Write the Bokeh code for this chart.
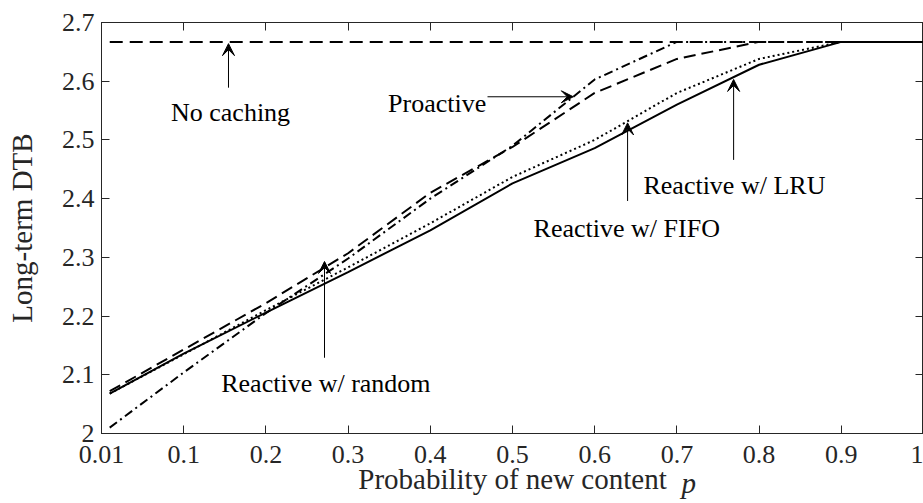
from bokeh.plotting import figure
from bokeh.models import (Range1d, LinearAxis, FixedTicker, Label, Arrow, VeeHead, Title)
from bokeh.embed import file_html
from bokeh.resources import INLINE

# ---- data ----
p_vals = [0.01, 0.1, 0.2, 0.3, 0.4, 0.5, 0.6, 0.7, 0.8, 0.9, 1.0]
no_caching = [2.667, 2.667, 2.667, 2.667, 2.667, 2.667, 2.667, 2.667, 2.667, 2.667, 2.667]
proactive = [2.010, 2.104, 2.205, 2.298, 2.400, 2.490, 2.603, 2.667, 2.667, 2.667, 2.667]
reactive_random = [2.072, 2.143, 2.222, 2.307, 2.410, 2.488, 2.580, 2.638, 2.667, 2.667, 2.667]
reactive_fifo = [2.068, 2.135, 2.210, 2.283, 2.358, 2.437, 2.500, 2.580, 2.638, 2.667, 2.667]
reactive_lru = [2.068, 2.136, 2.206, 2.275, 2.346, 2.426, 2.486, 2.560, 2.628, 2.667, 2.667]

x_ticks = [0, 0.1, 0.2, 0.3, 0.4, 0.5, 0.6, 0.7, 0.8, 0.9, 1]
x_tick_labels = ["0.01", "0.1", "0.2", "0.3", "0.4", "0.5", "0.6", "0.7", "0.8", "0.9", "1"]
y_ticks = [2, 2.1, 2.2, 2.3, 2.4, 2.5, 2.6, 2.7]
y_tick_labels = ["2", "2.1", "2.2", "2.3", "2.4", "2.5", "2.6", "2.7"]

FONT = "Liberation Serif"
AX = "#262626"

p = figure(width=923, height=503, output_backend="svg", toolbar_location=None,
           x_range=Range1d(0, 1), y_range=Range1d(2, 2.7),
           min_border_left=101, min_border_right=0, min_border_top=22, min_border_bottom=70,
           x_axis_label="Probability of new content", y_axis_label="Long-term DTB")
p.background_fill_color = "white"
p.border_fill_color = "white"
p.outline_line_color = AX
p.outline_line_width = 1
p.xgrid.visible = False
p.ygrid.visible = False

def style_axis(ax, ticks, labels, show_labels=True):
    ax.ticker = FixedTicker(ticks=ticks)
    ax.major_label_overrides = {t: l for t, l in zip(ticks, labels)}
    ax.minor_tick_line_color = None
    ax.major_tick_in = 8
    ax.major_tick_out = 0
    ax.major_tick_line_color = AX
    ax.axis_line_color = AX
    ax.major_label_text_font = FONT
    ax.major_label_text_color = AX
    if show_labels:
        ax.major_label_text_font_size = "26px"
    else:
        ax.major_label_text_font_size = "0px"
        ax.major_label_standoff = 0
    ax.axis_label_text_font = FONT
    ax.axis_label_text_font_style = "normal"
    ax.axis_label_text_font_size = "29px"
    ax.axis_label_text_color = AX

style_axis(p.xaxis[0], x_ticks, x_tick_labels)
style_axis(p.yaxis[0], y_ticks, y_tick_labels)
p.xaxis[0].major_label_standoff = 12
p.xaxis[0].axis_label_standoff = -3
p.yaxis[0].major_label_standoff = 7
p.yaxis[0].axis_label_standoff = 21

top_ax = LinearAxis()
style_axis(top_ax, x_ticks, x_tick_labels, show_labels=False)
p.add_layout(top_ax, "above")
right_ax = LinearAxis()
style_axis(right_ax, y_ticks, y_tick_labels, show_labels=False)
p.add_layout(right_ax, "right")

# ---- curves ----
p.line(p_vals, no_caching, line_color="black", line_width=2, line_dash="13 7")
p.line(p_vals, reactive_random, line_color="black", line_width=2, line_dash="12 6")
p.line(p_vals, proactive, line_color="black", line_width=2, line_dash="9 4 2 4")
p.line(p_vals, reactive_fifo, line_color="black", line_width=2, line_dash="2 3")
p.line(p_vals, reactive_lru, line_color="black", line_width=2)

# ---- annotations ----
def label(x, y, text, align="center"):
    p.add_layout(Label(x=x, y=y, text=text, text_align=align, text_baseline="alphabetic",
                       text_font=FONT, text_font_size="26px", text_color="black"))

def arrow(x0, y0, x1, y1):
    p.add_layout(Arrow(x_start=x0, y_start=y0, x_end=x1, y_end=y1,
                       line_color="black", line_width=1,
                       end=VeeHead(size=12, fill_color="black", line_color="black", line_width=1)))

label(0.157, 2.546, "No caching")
arrow(0.1545, 2.589, 0.1545, 2.664)

label(0.468, 2.5615, "Proactive", align="right")
arrow(0.4696, 2.5735, 0.574, 2.5735)

label(0.273, 2.086, "Reactive w/ random")
arrow(0.2713, 2.129, 0.2713, 2.293)

label(0.639, 2.3496, "Reactive w/ FIFO")
arrow(0.640, 2.396, 0.640, 2.529)

label(0.770, 2.423, "Reactive w/ LRU")
arrow(0.769, 2.466, 0.769, 2.603)

# italic p after the x axis label (title in the lower panel, pulled up to the label line)
p.add_layout(Title(text="p", text_font=FONT, text_font_style="italic", text_font_size="29px",
                   text_color=AX, align="left", vertical_align="top", offset=580, standoff=-62),
             "below")

open("out.html", "w").write(file_html(p, INLINE))
